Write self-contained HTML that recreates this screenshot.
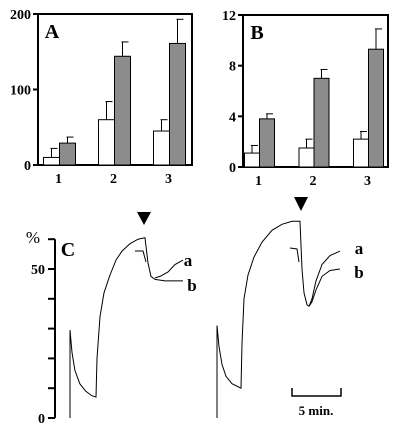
<!DOCTYPE html>
<html><head><meta charset="utf-8"><style>
body{margin:0;background:#fff;}
svg{display:block;font-family:"Liberation Serif",serif;font-weight:bold;}
</style></head><body>
<svg id="c" width="400" height="430" viewBox="0 0 400 430"></svg>
<script>
const groups=["1","2","3"];
const aWhite=[10,60,45], aWhiteErr=[22,84,60];
const aGray=[29,144,161], aGrayErr=[37,163,193];
const aTicks=[0,100,200];
const bWhite=[1.1,1.5,2.2], bWhiteErr=[1.7,2.2,2.8];
const bGray=[3.8,7.0,9.3], bGrayErr=[4.2,7.7,10.9];
const bTicks=[0,4,8,12];
const cTicks=[0,10,20,30,40,50,60];
const cTickLabels=["0","","","","","50",""];
// traces: time (min), percent
const t1Time=[0,0,0.2,0.5,1,1.6,2.2,2.65,2.75,3.06,3.47,4.08,4.69,5.31,6.12,6.94,7.65,7.96,8.27,8.67];
const t1Val=[0,29.5,22,16,11.5,9,7.5,7,20,34,42,48,53,56,58.5,60,60.5,52,47.5,46.5];
const t1aTime=[8.67,9.18,10,10.71,11.53];
const t1aVal=[47,47.5,49,51.5,53];
const t1bTime=[8.67,9.69,10.71,11.53];
const t1bVal=[46.5,46,46,46];
const t2Time=[0,0,0.2,0.51,0.92,1.53,2.45,2.55,2.76,3.16,3.78,4.59,5.61,6.63,7.65,8.47,8.67,8.88,9.18,9.39];
const t2Val=[0,31,24,18,14,11.5,10,25,40,48,54,59,63,65,66,66,50,42,38,37.5];
const t2aTime=[9.39,9.69,10.1,10.71,11.53,12.55];
const t2aVal=[37.5,40,46,51.5,54.5,56];
const t2bTime=[9.39,9.69,10.1,10.71,11.53,12.55];
const t2bVal=[37.5,39,43,47.5,49.5,50];

const svg=document.getElementById('c');const NS="http://www.w3.org/2000/svg";
function mk(tag,attrs,name,parent){const e=document.createElementNS(NS,tag);for(const k in attrs)e.setAttribute(k,attrs[k]);


(parent||svg).appendChild(e);return e;}
function txt(x,y,s,size,name,anchor){const t=mk('text',{x:x,y:y,'font-size':size,'text-anchor':anchor||'middle'},name);t.textContent=s;return t;}

function barPanel(p){
  const y=v=>p.y1-(v/p.max)*(p.y1-p.y0);
  mk('rect',{x:p.x0,y:p.y0,width:p.x1-p.x0,height:p.y1-p.y0,fill:'none',stroke:'#000','stroke-width':2},p.id+'-frame');
  p.ticks.forEach(v=>{mk('line',{x1:p.x0-5,x2:p.x0,y1:y(v),y2:y(v),stroke:'#000','stroke-width':2},p.id+'-y-tick');
    txt(p.x0-7,y(v)+5,String(v),14,p.id+'-y-tick-label','end');});
  groups.forEach((g,i)=>{
    const cx=p.x0+p.off+p.step*i;const bw=p.bw;
    const draw=(val,err,xl,fill,nm)=>{
      mk('line',{x1:xl+bw/2,x2:xl+bw/2,y1:y(val),y2:y(err),stroke:'#000','stroke-width':1},p.id+'-error-'+nm);
      mk('line',{x1:xl+bw/2-1,x2:xl+bw/2+6,y1:y(err),y2:y(err),stroke:'#000','stroke-width':1},p.id+'-error-cap-'+nm);
      mk('rect',{x:xl,y:y(val),width:bw,height:y(0)-y(val),fill:fill,stroke:'#000','stroke-width':1},p.id+'-bar-'+nm);
    };
    draw(p.gv[i],p.ge[i],cx,'#8c8c8c','gray-'+g);
    draw(p.wv[i],p.we[i],cx-bw,'#fff','white-'+g);
    txt(cx-1,p.y1+18,g,14,p.id+'-x-label');
  });
  txt(p.x0+14,p.y0+24,p.label,20,p.id+'-panel-label');
}
barPanel({id:'a',x0:38,x1:192,y0:14,y1:165,max:200,off:21.5,step:55,bw:16,ticks:aTicks,wv:aWhite,we:aWhiteErr,gv:aGray,ge:aGrayErr,label:'A'});
barPanel({id:'b',x0:243,x1:388,y0:15,y1:167,max:12,off:16.5,step:54.5,bw:15,ticks:bTicks,wv:bWhite,we:bWhiteErr,gv:bGray,ge:bGrayErr,label:'B'});

// Panel C
const cy=v=>418-v*2.98;
mk('line',{x1:55,x2:55,y1:cy(60),y2:418,stroke:'#000','stroke-width':2},'c-y-axis');
cTicks.forEach((v,i)=>{mk('line',{x1:48,x2:55,y1:cy(v),y2:cy(v),stroke:'#000','stroke-width':2},'c-y-tick');
  if(cTickLabels[i])txt(45,cy(v)+5,cTickLabels[i],14,'c-y-tick-label','end');});
txt(33,243,'%',17,'c-y-unit','middle').setAttribute('font-weight','normal');
txt(68,256,'C',20,'c-panel-label');
function trace(x0,T,V,name){const pts=T.map((t,i)=>(x0+t*9.8).toFixed(1)+','+cy(V[i]).toFixed(1)).join(' ');
  mk('polyline',{points:pts,fill:'none',stroke:'#000','stroke-width':1},name);}
trace(70,t1Time,t1Val,'trace-1');trace(70,t1aTime,t1aVal,'trace-1-a');trace(70,t1bTime,t1bVal,'trace-1-b');
trace(217,t2Time,t2Val,'trace-2');trace(217,t2aTime,t2aVal,'trace-2-a');trace(217,t2bTime,t2bVal,'trace-2-b');
mk('polyline',{points:'135,251 143,251 146,262',fill:'none',stroke:'#000','stroke-width':1},'trace-1-stub');
mk('polyline',{points:'290,248 297,249 299,262',fill:'none',stroke:'#000','stroke-width':1},'trace-2-stub');
txt(188,266,'a',17,'trace-1-a-label');txt(192,291,'b',17,'trace-1-b-label');
txt(359,254,'a',17,'trace-2-a-label');txt(359,278,'b',17,'trace-2-b-label');
mk('polygon',{points:'137,212 151,212 144,225',fill:'#000'},'arrowhead-1');
mk('polygon',{points:'294,197 308,197 301,211',fill:'#000'},'arrowhead-2');
mk('polyline',{points:'292,388 292,396 341,396 341,388',fill:'none',stroke:'#000','stroke-width':1.5},'scale-bar');
txt(316,415,'5 min.',13,'scale-bar-label');
</script>
</body></html>
